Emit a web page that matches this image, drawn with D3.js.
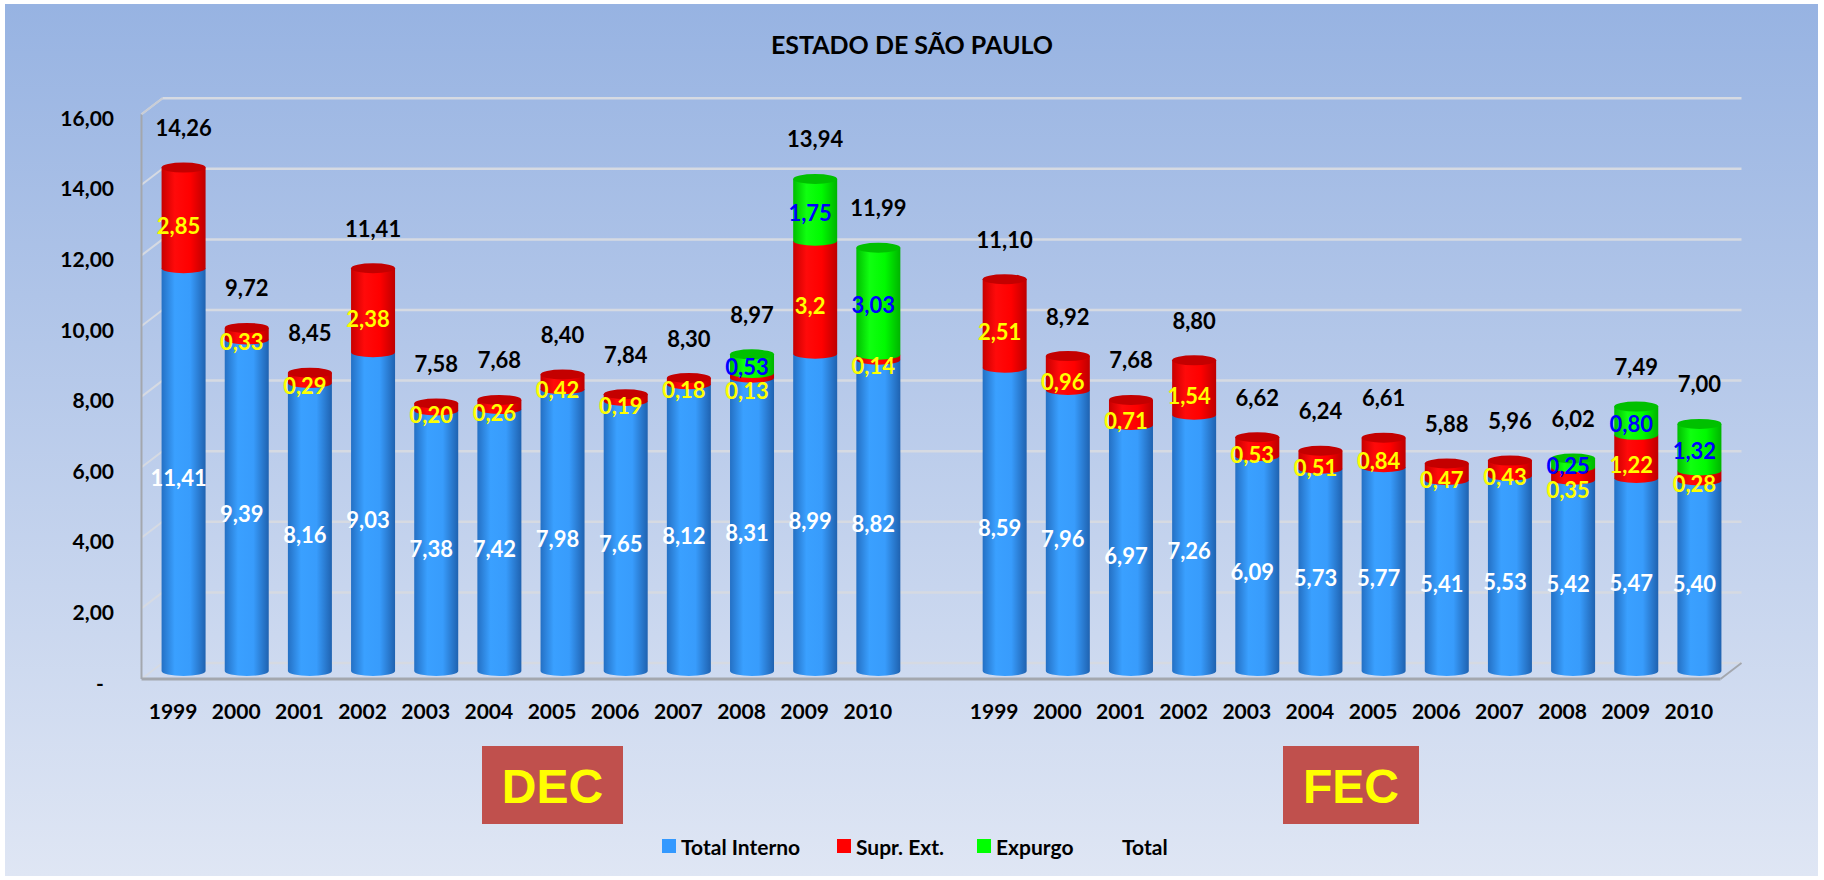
<!DOCTYPE html>
<html>
<head>
<meta charset="utf-8">
<script src="https://cdn.jsdelivr.net/npm/d3@7"></script>
<style>
body { margin: 0; background: #fff; }
svg { display: block; }
text { font-family: Lato, "Open Sans", sans-serif; font-weight: bold; }
</style>
</head>
<body>
<div id="chart"></div>
<script>
// data
var years = ["1999","2000","2001","2002","2003","2004","2005","2006","2007","2008","2009","2010"];

var decInterno = [11.41, 9.39, 8.16, 9.03, 7.38, 7.42, 7.98, 7.65, 8.12, 8.31, 8.99, 8.82];
var decSupr    = [2.85, 0.33, 0.29, 2.38, 0.20, 0.26, 0.42, 0.19, 0.18, 0.13, 3.2, 0.14];
var decExpurgo = [0, 0, 0, 0, 0, 0, 0, 0, 0, 0.53, 1.75, 3.03];
var decTotal   = [14.26, 9.72, 8.45, 11.41, 7.58, 7.68, 8.40, 7.84, 8.30, 8.97, 13.94, 11.99];

var fecInterno = [8.59, 7.96, 6.97, 7.26, 6.09, 5.73, 5.77, 5.41, 5.53, 5.42, 5.47, 5.40];
var fecSupr    = [2.51, 0.96, 0.71, 1.54, 0.53, 0.51, 0.84, 0.47, 0.43, 0.35, 1.22, 0.28];
var fecExpurgo = [0, 0, 0, 0, 0, 0, 0, 0, 0, 0.25, 0.80, 1.32];
var fecTotal   = [11.10, 8.92, 7.68, 8.80, 6.62, 6.24, 6.61, 5.88, 5.96, 6.02, 7.49, 7.00];

// "3,2" is shown with one decimal in the original
var decSuprDecimals = [2, 2, 2, 2, 2, 2, 2, 2, 2, 2, 1, 2];

var yTicks = [0, 2, 4, 6, 8, 10, 12, 14, 16];
var seriesNames = ["Total Interno", "Supr. Ext.", "Expurgo", "Total"];
var title = "ESTADO DE SÃO PAULO";

var W = 1824, H = 880;
var locale = d3.formatLocale({decimal: ",", thousands: ".", grouping: [3], currency: ["", ""]});
var f2 = locale.format(".2f"), f1 = locale.format(".1f");

// build rows: DEC, one empty slot, FEC
var rows = [];
years.forEach(function (y, i) {
  rows.push({key: "DEC" + y, year: y, vals: [decInterno[i], decSupr[i], decExpurgo[i]], total: decTotal[i],
             dec: [2, decSuprDecimals[i], 2]});
});
rows.push({key: "gap", year: "", vals: null});
years.forEach(function (y, i) {
  rows.push({key: "FEC" + y, year: y, vals: [fecInterno[i], fecSupr[i], fecExpurgo[i]], total: fecTotal[i],
             dec: [2, 2, 2]});
});

var svg = d3.select("#chart").append("svg").attr("width", W).attr("height", H);
var defs = svg.append("defs");

var bg = defs.append("linearGradient").attr("id", "bg").attr("x1", 0).attr("y1", 0).attr("x2", 0).attr("y2", 1);
bg.append("stop").attr("offset", "0%").attr("stop-color", "#97B3E2");
bg.append("stop").attr("offset", "100%").attr("stop-color", "#DFE6F4");

svg.append("rect").attr("x", 5).attr("y", 4).attr("width", 1813).attr("height", 872).attr("fill", "url(#bg)");

// cylinder side gradients
var cyl = [
  {id: "gBlue",  stops: ["#2470C4", "#3AA0FF", "#389CFC", "#1F62B0"], top: "#2B86E0"},
  {id: "gRed",   stops: ["#C80000", "#FF0A0A", "#FF0000", "#BE0000"], top: "#C40000"},
  {id: "gGreen", stops: ["#00BE00", "#10FF10", "#00FA00", "#00B400"], top: "#00C000"}
];
cyl.forEach(function (c) {
  var g = defs.append("linearGradient").attr("id", c.id).attr("x1", 0).attr("x2", 1).attr("y1", 0).attr("y2", 0);
  [0, 0.3, 0.65, 1].forEach(function (o, k) {
    g.append("stop").attr("offset", o).attr("stop-color", c.stops[k]);
  });
});
var textColors = ["#FFFFFF", "#FFFF00", "#0000FF"];

// scales (middle plane of the 3D box); front/back are shifted
var x = d3.scaleBand().domain(rows.map(function (d) { return d.key; })).range([152, 1731]).paddingInner(0).paddingOuter(0);
var y = d3.scaleLinear().domain([0, 16]).range([671, 106.2]);
var dx = 10.5, dy = 8;
var xL = x.range()[0], xR = x.range()[1];

// back wall gridlines + left wall
var grid = svg.append("g");
yTicks.forEach(function (t) {
  grid.append("line").attr("x1", xL + dx).attr("x2", xR + dx)
    .attr("y1", y(t) - dy).attr("y2", y(t) - dy)
    .attr("stroke", "#D6DAE2").attr("stroke-width", 2.5);
  grid.append("line").attr("x1", xL - dx).attr("x2", xL + dx)
    .attr("y1", y(t) + dy).attr("y2", y(t) - dy)
    .attr("stroke", "#D6DAE2").attr("stroke-width", 2);
});
// left axis (front edge of the wall)
grid.append("line").attr("x1", xL - dx).attr("x2", xL - dx).attr("y1", y(16) + dy).attr("y2", y(0) + dy)
  .attr("stroke", "#A3A7AE").attr("stroke-width", 2);
grid.append("line").attr("x1", xL - dx).attr("x2", xL + dx).attr("y1", y(16) + dy).attr("y2", y(16) - dy)
  .attr("stroke", "#C9CDD5").attr("stroke-width", 2);
// floor front edge
grid.append("line").attr("x1", xL - dx).attr("x2", xR - dx).attr("y1", y(0) + dy).attr("y2", y(0) + dy)
  .attr("stroke", "#A3A7AE").attr("stroke-width", 3);
grid.append("line").attr("x1", xR - dx).attr("x2", xR + dx).attr("y1", y(0) + dy).attr("y2", y(0) - dy)
  .attr("stroke", "#A3A7AE").attr("stroke-width", 2);

// y axis labels, aligned on the front plane
svg.append("g").selectAll("text").data(yTicks).enter().append("text")
  .attr("x", function (d) { return d === 0 ? 100 : 114; })
  .attr("y", function (d) { return y(d) + dy + 3; })
  .attr("text-anchor", function (d) { return d === 0 ? "middle" : "end"; })
  .attr("dominant-baseline", "central")
  .attr("font-size", 21).attr("fill", "#000")
  .text(function (d) { return d === 0 ? "-" : f2(d); });

// year labels
var data = rows.filter(function (d) { return d.vals; });
svg.append("g").selectAll("text").data(data).enter().append("text")
  .attr("x", function (d) { return x(d.key) + x.bandwidth() / 2 - dx; })
  .attr("y", 710)
  .attr("text-anchor", "middle").attr("dominant-baseline", "central")
  .attr("font-size", 21).attr("fill", "#000")
  .text(function (d) { return d.year; });

// cylinders
var rx = 22, ry = 5;
var bars = svg.append("g");
var labels = svg.append("g");
data.forEach(function (d) {
  var cx = x(d.key) + x.bandwidth() / 2;
  var base = 0, segs = [];
  d.vals.forEach(function (v, k) {
    if (v > 0) segs.push({k: k, v0: base, v1: base + v, v: v});
    base += v;
  });
  segs.forEach(function (s, i) {
    var yb = y(s.v0), yt = y(s.v1);
    bars.append("path")
      .attr("d", "M" + (cx - rx) + "," + yt + "L" + (cx - rx) + "," + yb +
                 "A" + rx + "," + ry + " 0 0 0 " + (cx + rx) + "," + yb +
                 "L" + (cx + rx) + "," + yt + "Z")
      .attr("fill", "url(#" + cyl[s.k].id + ")");
    if (i === segs.length - 1) {
      bars.append("ellipse").attr("cx", cx).attr("cy", yt).attr("rx", rx).attr("ry", ry)
        .attr("fill", cyl[s.k].top);
    }
    s.ly = y((s.v0 + s.v1) / 2) + dy - (s.k === 2 ? 5 : 0);
  });
  // keep red and green labels apart when both segments are thin
  var red = segs.filter(function (s) { return s.k === 1; })[0];
  var green = segs.filter(function (s) { return s.k === 2; })[0];
  if (red && green && red.ly - green.ly < 24) red.ly = green.ly + 24;

  segs.forEach(function (s) {
    var fmt = d.dec[s.k] === 1 ? f1 : f2;
    labels.append("text").attr("x", cx - 5).attr("y", s.ly)
      .attr("text-anchor", "middle").attr("dominant-baseline", "central")
      .attr("font-size", 22).attr("fill", textColors[s.k])
      .text(fmt(s.v));
  });
  labels.append("text").attr("x", cx).attr("y", y(d.total) - 40)
    .attr("text-anchor", "middle").attr("dominant-baseline", "central")
    .attr("font-size", 22).attr("fill", "#000")
    .text(f2(d.total));
});

// title
svg.append("text").attr("x", 912).attr("y", 44).attr("text-anchor", "middle")
  .attr("dominant-baseline", "central").attr("font-size", 25).attr("fill", "#000").text(title);

// DEC / FEC boxes
[{t: "DEC", x: 482, w: 141}, {t: "FEC", x: 1283, w: 136}].forEach(function (b) {
  svg.append("rect").attr("x", b.x).attr("y", 746).attr("width", b.w).attr("height", 78).attr("fill", "#C0504D");
  svg.append("text").attr("x", b.x + b.w / 2).attr("y", 786).attr("text-anchor", "middle")
    .attr("dominant-baseline", "central")
    .style("font-family", "'Liberation Sans', Arial, sans-serif")
    .attr("font-size", 48).attr("fill", "#FFFF00").text(b.t);
});

// legend
var legX = [662, 837, 977, 1103];
var legColors = ["#3399FF", "#FF0000", "#00FF00", null];
var leg = svg.append("g");
seriesNames.forEach(function (n, i) {
  if (legColors[i]) {
    leg.append("rect").attr("x", legX[i]).attr("y", 839).attr("width", 14).attr("height", 14).attr("fill", legColors[i]);
  }
  leg.append("text").attr("x", legX[i] + 19).attr("y", 846).attr("dominant-baseline", "central")
    .attr("font-size", 21).attr("fill", "#000").text(n);
});
</script>
</body>
</html>
